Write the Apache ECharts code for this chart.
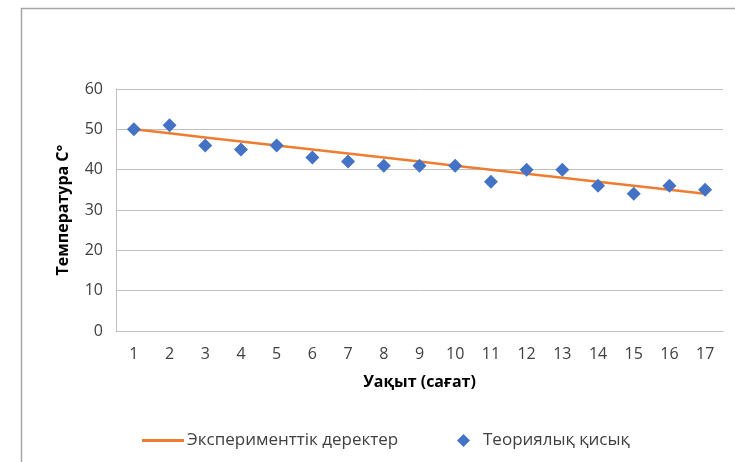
<!DOCTYPE html>
<html>
<head>
<meta charset="utf-8">
<script src="https://cdn.jsdelivr.net/npm/echarts@6/dist/echarts.min.js"></script>
<style>
  html, body { margin: 0; padding: 0; background: #fff; }
  #chart { width: 735px; height: 462px; }
</style>
</head>
<body>
<div id="chart"></div>
<script>
  // данные
  var hours = ['1','2','3','4','5','6','7','8','9','10','11','12','13','14','15','16','17'];
  var experimental = [50,49,48,47,46,45,44,43,42,41,40,39,38,37,36,35,34];
  var theoretical = [50,51,46,45,46,43,42,41,41,41,37,40,40,36,34,36,35];
  var yTicks = [0,10,20,30,40,50,60];

  var lineName = 'Эксперименттік деректер';
  var dotName = 'Теориялық қисық';
  var font = '"Open Sans", "Liberation Sans", sans-serif';

  var myChart = echarts.init(document.getElementById('chart'));
  var option = {
    animation: false,
    backgroundColor: '#fff',
    textStyle: { fontFamily: font },
    graphic: [{
      type: 'rect',
      shape: { x: 21.5, y: 8.5, width: 800, height: 600 },
      style: { fill: 'none', stroke: '#a6a6a6', lineWidth: 1.5 },
      silent: true
    }],
    grid: { left: 116, right: 12, top: 89, bottom: 131 },
    legend: [{
      left: 137, top: 427,
      icon: 'rect', itemWidth: 42, itemHeight: 3, itemGap: 4,
      textStyle: { color: '#404040', fontSize: 17, fontFamily: font, padding: [0, 0, 0, -2] },
      data: [lineName]
    }, {
      left: 452, top: 427,
      icon: 'diamond', itemWidth: 13, itemHeight: 13,
      textStyle: { color: '#404040', fontSize: 17, fontFamily: font, padding: [0, 0, 0, 8] },
      data: [dotName]
    }],
    xAxis: {
      type: 'category',
      data: hours,
      name: 'Уақыт (сағат)',
      nameLocation: 'middle',
      nameGap: 43,
      nameTextStyle: { color: '#000', fontSize: 16, fontWeight: 'bold', fontFamily: font },
      axisLine: { lineStyle: { color: '#bfbfbf', width: 1 } },
      axisTick: { show: false },
      axisLabel: { color: '#404040', fontSize: 16, margin: 15 },
      splitLine: { show: false }
    },
    yAxis: {
      type: 'value',
      min: yTicks[0], max: yTicks[yTicks.length - 1], interval: 10,
      name: 'Температура С°',
      nameLocation: 'middle',
      nameRotate: 90,
      nameGap: 45,
      nameTextStyle: { color: '#000', fontSize: 16, fontWeight: 'bold', fontFamily: font },
      axisLine: { show: true, lineStyle: { color: '#bfbfbf', width: 1 } },
      axisTick: { show: false },
      axisLabel: { color: '#404040', fontSize: 16, margin: 13 },
      splitLine: { lineStyle: { color: '#bfbfbf', width: 1 } }
    },
    series: [{
      name: lineName,
      type: 'line',
      data: experimental,
      symbol: 'none',
      color: '#ED7D31',
      lineStyle: { color: '#ED7D31', width: 2.5 },
      z: 2
    }, {
      name: dotName,
      type: 'scatter',
      data: theoretical,
      symbol: 'diamond',
      symbolSize: 14,
      color: '#4472C4',
      itemStyle: { color: '#4472C4', opacity: 1 },
      z: 3
    }]
  };
  myChart.setOption(option);
</script>
</body>
</html>
